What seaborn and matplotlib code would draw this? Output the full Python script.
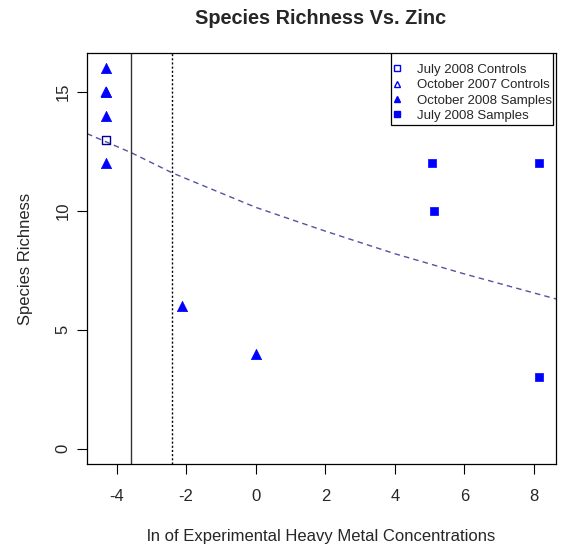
import matplotlib
matplotlib.use("Agg")
import matplotlib.pyplot as plt
import seaborn as sns
import pandas as pd
from matplotlib.lines import Line2D
from matplotlib.patches import Rectangle

sns.set_style("white")
plt.rcParams['font.family'] = ['Liberation Sans', 'DejaVu Sans']

# ---- data ----
oct08_x = [-4.3, -4.3, -4.3, -4.3, -2.12, 0.0]
oct08_y = [16, 15, 14, 12, 6, 4]
jul08_x = [5.06, 5.12, 8.14, 8.14]
jul08_y = [12, 10, 12, 3]
jul08c_x = [-4.3]
jul08c_y = [13]
oct07c_x = [-4.3]
oct07c_y = [15]
fit_x = [-4.85, -3.58, -2.4, 0.0, 2.0, 4.0, 6.0, 8.0, 8.63]
fit_y = [13.25, 12.45, 11.6, 10.15, 9.15, 8.2, 7.35, 6.55, 6.3]
vline_solid = -3.58
vline_dotted = -2.4
x_ticks = [-4, -2, 0, 2, 4, 6, 8]
y_ticks = [0, 5, 10, 15]
legend_labels = ["July 2008 Controls", "October 2007 Controls",
                 "October 2008 Samples", "July 2008 Samples"]

fig = plt.figure(figsize=(5.63, 5.48), dpi=100)
ax = fig.add_axes([87/563, 84/548, (556-87)/563, (464-53)/548])

blue = "#0000FF"
ax.axvline(vline_solid, color="#333333", lw=1.0)
ax.axvline(vline_dotted, color="black", lw=1.0, ls=(0, (1.5, 1.5)))

sns.lineplot(x=fit_x, y=fit_y, ax=ax, color="#1a1a80", lw=1.0,
             linestyle=(0, (4, 3)), alpha=0.75)

sns.scatterplot(x=oct08_x, y=oct08_y, ax=ax, marker="^", s=55,
                color=blue, edgecolor=blue, linewidth=0.5)
sns.scatterplot(x=jul08_x, y=jul08_y, ax=ax, marker="s", s=36,
                color=blue, edgecolor=blue, linewidth=0.5)
sns.scatterplot(x=jul08c_x, y=jul08c_y, ax=ax, marker="s", s=34,
                facecolor="none", edgecolor="#000099", linewidth=1.0)
sns.scatterplot(x=oct07c_x, y=oct07c_y, ax=ax, marker="^", s=50,
                facecolor="none", edgecolor=blue, linewidth=0.8)

ax.set_xlim(-4.85, 8.63)
ax.set_ylim(-0.64, 16.64)
ax.set_xticks(x_ticks)
ax.set_yticks(y_ticks)
ax.set_xticklabels([str(t) for t in x_ticks], fontsize=12)
ax.set_yticklabels([str(t) for t in y_ticks], fontsize=12, rotation=90, va="center")
ax.tick_params(axis="x", direction="out", length=7, width=0.8,
               color="black", pad=11, bottom=True)
ax.tick_params(axis="y", direction="out", length=7, width=0.8,
               color="black", pad=5, left=True)
for sp in ax.spines.values():
    sp.set_visible(True)
    sp.set_color("black")
    sp.set_linewidth(0.9)

ax.set_xlabel("ln of Experimental Heavy Metal Concentrations", fontsize=12, labelpad=18)
ax.set_ylabel("Species Richness", fontsize=12, labelpad=16)
fig.text(321/563, 1 - 18/548, "Species Richness Vs. Zinc", ha="center",
         va="center", fontsize=14.3, fontweight="bold")

# legend box drawn R-style (tight frame)
ax.add_patch(Rectangle(((391-87)/469, (464-125)/411), (553-391)/469, (125-53)/411,
                       transform=ax.transAxes, facecolor="white",
                       edgecolor="black", lw=0.9, zorder=4))
handles = [
    Line2D([], [], ls="", marker="s", ms=4, mfc="none", mec=blue, mew=1.0),
    Line2D([], [], ls="", marker="^", ms=5, mfc="none", mec=blue, mew=1.0),
    Line2D([], [], ls="", marker="^", ms=4, mfc=blue, mec=blue),
    Line2D([], [], ls="", marker="s", ms=4.5, mfc=blue, mec=blue),
]
leg = ax.legend(handles, legend_labels, loc="upper left",
                bbox_to_anchor=((393.7-87)/469, (464-63.5)/411), fontsize=9.5,
                frameon=False, borderaxespad=0, borderpad=0,
                handlelength=0.5, handletextpad=1.27, labelspacing=0.24)
leg.set_zorder(5)

fig.savefig("out.png", dpi=100, facecolor="white")
